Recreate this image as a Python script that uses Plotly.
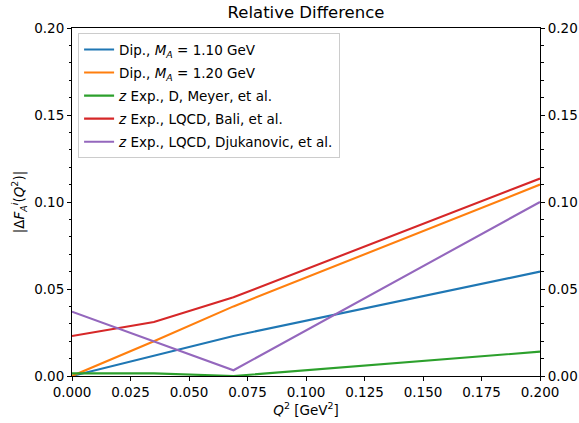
import plotly.graph_objects as go

# Q^2 sample points [GeV^2]
q2 = [0.0, 0.035, 0.069, 0.2]

# |Delta F_A^i(Q^2)| for each parametrisation
dip_110 = [0.0, 0.0115, 0.023, 0.060]
dip_120 = [0.0, 0.020, 0.040, 0.110]
zexp_meyer = [0.0015, 0.0015, 0.0, 0.014]
zexp_bali = [0.023, 0.031, 0.0452, 0.1135]
zexp_djuk = [0.037, 0.020, 0.0033, 0.100]

names = [
    "Dip., <i>M<sub>A</sub></i> = 1.10 GeV",
    "Dip., <i>M<sub>A</sub></i> = 1.20 GeV",
    "<i>z</i> Exp., D, Meyer, et al.",
    "<i>z</i> Exp., LQCD, Bali, et al.",
    "<i>z</i> Exp., LQCD, Djukanovic, et al.",
]
series = [dip_110, dip_120, zexp_meyer, zexp_bali, zexp_djuk]
colors = ["#1f77b4", "#ff7f0e", "#2ca02c", "#d62728", "#9467bd"]

x_ticks = [0.0, 0.025, 0.05, 0.075, 0.1, 0.125, 0.15, 0.175, 0.2]
x_tick_text = ["0.000", "0.025", "0.050", "0.075", "0.100", "0.125", "0.150", "0.175", "0.200"]
y_ticks = [0.0, 0.05, 0.1, 0.15, 0.2]
y_tick_text = ["0.00", "0.05", "0.10", "0.15", "0.20"]

font_family = "DejaVu Sans"

fig = go.Figure()
for i, (name, ys, c) in enumerate(zip(names, series, colors)):
    fig.add_trace(go.Scatter(x=q2, y=ys, mode="lines", name=name,
                             legendgroup=f"g{i}",
                             line=dict(color=c, width=2.1)))

# invisible trace to anchor the mirrored right-hand axis
fig.add_trace(go.Scatter(x=q2, y=zexp_bali, yaxis="y2", mode="lines",
                         line=dict(width=0), showlegend=False, hoverinfo="skip",
                         opacity=0))

axis_common = dict(
    showgrid=False, zeroline=False, showline=True, linecolor="black", linewidth=1,
    ticks="outside", ticklen=4, tickwidth=1, tickcolor="black", automargin=False,
    tickfont=dict(family=font_family, size=13.5, color="black"),
)
minor_y = dict(dtick=0.01, ticks="outside", ticklen=2.5, tickwidth=0.8,
               tickcolor="black", showgrid=False)

fig.update_layout(
    width=579, height=423,
    margin=dict(l=72, r=39, t=28, b=47),
    paper_bgcolor="white", plot_bgcolor="white",
    font=dict(family=font_family, size=13.5, color="black"),
    title=dict(text="Relative Difference", x=0.5, xref="paper", xanchor="center",
               y=0.5 * 28 / 423 + (1 - 28 / 423) + 0.004, yref="container",
               yanchor="middle",
               font=dict(family=font_family, size=16.5, color="black")),
    xaxis=dict(range=[0, 0.2], tickvals=x_ticks, ticktext=x_tick_text,
               mirror=True,
               title=dict(text="<i>Q</i><sup>2</sup> [GeV<sup>2</sup>]",
                          standoff=4, font=dict(family=font_family, size=13.5)),
               **axis_common),
    yaxis=dict(range=[0, 0.2], tickvals=y_ticks, ticktext=y_tick_text,
               minor=minor_y,
               title=dict(text="|Δ<i>F</i><sub><i>A</i></sub><sup><i>i</i></sup>(<i>Q</i><sup>2</sup>)|",
                          standoff=6, font=dict(family=font_family, size=13.5)),
               **axis_common),
    yaxis2=dict(range=[0, 0.2], tickvals=y_ticks, ticktext=y_tick_text,
                overlaying="y", side="right", minor=minor_y, **axis_common),
    legend=dict(x=0.013, y=0.985, xanchor="left", yanchor="top",
                bgcolor="rgba(255,255,255,0.8)", bordercolor="#cccccc", borderwidth=1,
                font=dict(family=font_family, size=13.5, color="black"),
                tracegroupgap=2.5, itemwidth=30),
    showlegend=True,
)

fig.write_html("out.html")
